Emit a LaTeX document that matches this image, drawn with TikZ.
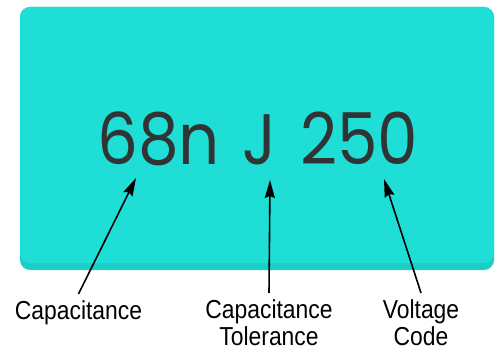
\documentclass[tikz,border=0pt]{standalone}
\usepackage{fontspec}
\usetikzlibrary{arrows.meta}
\newfontfamily\codefont{Poppins}[FakeStretch=0.9]
\newfontfamily\labelfont{Liberation Sans}[FakeStretch=0.88]
\definecolor{capbody}{RGB}{31,222,214}
\definecolor{capedge}{RGB}{27,206,198}
\definecolor{codegray}{RGB}{48,52,52}
\begin{document}
\begin{tikzpicture}[x=1pt,y=1pt,
    code/.style={anchor=base,inner sep=0pt,text=codegray,font=\codefont\fontsize{71.5}{72}\selectfont},
    lbl/.style={anchor=base,align=center,inner xsep=0pt,inner ysep=6pt,font=\labelfont\fontsize{26}{27}\selectfont},
    ptr/.style={line width=1.6pt,-{Stealth[length=18pt,width=10pt,inset=2pt]}}]
    \useasboundingbox (0,0) rectangle (495,351);
    % body of the capacitor
    \fill[capedge,rounded corners=10pt] (20,81) rectangle (494,344);
    \fill[capbody,rounded corners=10pt] (20,88) rectangle (494,344);
    % printed code
    \node[code] (cap) at (158.5,186) {68n};
    \node[code] (tol) at (259.5,186) {J};
    \node[code] (volt) at (359,186) {250};
    \coordinate (captip) at (136,173);
    \coordinate (toltip) at (270,171);
    \coordinate (volttip) at (384,172);
    % labels
    \node[lbl] (capl) at (78.5,32) {Capacitance};
    \node[lbl] (toll) at (269,6) {Capacitance\\Tolerance};
    \node[lbl] (voltl) at (421,6) {Voltage\\Code};
    \draw[ptr] (capl.north) -- (captip);
    \draw[ptr] (toll.north) -- (toltip);
    \draw[ptr] (voltl.north) -- (volttip);
\end{tikzpicture}
\end{document}
